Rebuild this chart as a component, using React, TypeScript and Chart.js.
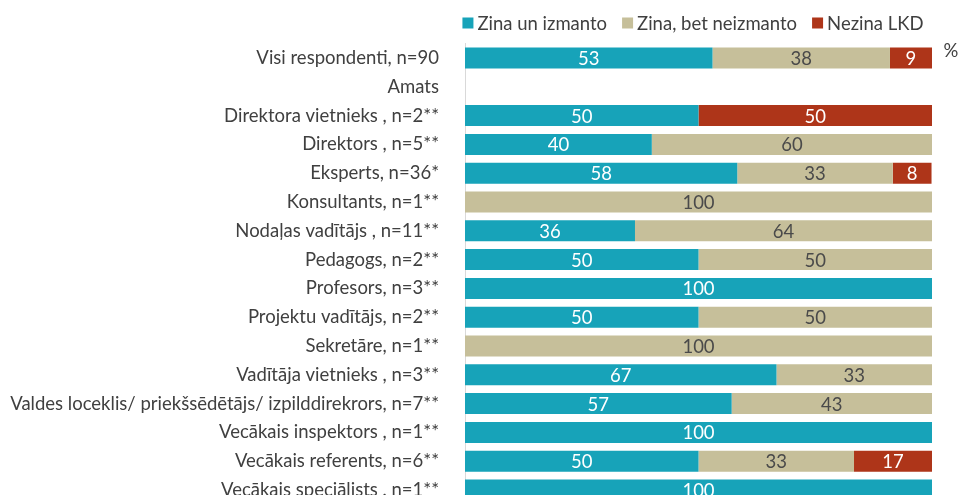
import React, { useEffect, useRef } from "react";
import { Chart, registerables } from "chart.js";

Chart.register(...registerables);

const categories = [
  "Visi respondenti, n=90",
  "Amats",
  "Direktora vietnieks , n=2**",
  "Direktors , n=5**",
  "Eksperts, n=36*",
  "Konsultants, n=1**",
  "Nodaļas vadītājs , n=11**",
  "Pedagogs, n=2**",
  "Profesors, n=3**",
  "Projektu vadītājs, n=2**",
  "Sekretāre, n=1**",
  "Vadītāja vietnieks , n=3**",
  "Valdes loceklis/ priekšsēdētājs/ izpilddirekrors, n=7**",
  "Vecākais inspektors , n=1**",
  "Vecākais referents, n=6**",
  "Vecākais speciālists , n=1**",
];

const seriesNames = ["Zina un izmanto", "Zina, bet neizmanto", "Nezina LKD"];
const knowUse = [53, null, 50, 40, 58.3, 0, 36.4, 50, 100, 50, 0, 66.7, 57.1, 100, 50, 100];
const knowNotUse = [38, null, 0, 60, 33.3, 100, 63.6, 50, 0, 50, 100, 33.3, 42.9, 0, 33.3, 0];
const dontKnow = [9, null, 50, 0, 8.3, 0, 0, 0, 0, 0, 0, 0, 0, 0, 16.7, 0];

const colors = ["#17a3b9", "#c6bf9a", "#ae3519"];
const labelColors = ["#ffffff", "#4a4a4a", "#ffffff"];
const FONT = "Lato, 'Open Sans', sans-serif";
const FS = 18.5;

const valueLabels = {
  id: "valueLabels",
  afterDatasetsDraw(chart: any) {
    const ctx = chart.ctx;
    ctx.save();
    ctx.font = `${FS}px ${FONT}`;
    ctx.textAlign = "center";
    ctx.textBaseline = "middle";
    chart.data.datasets.forEach((ds: any, di: number) => {
      const meta = chart.getDatasetMeta(di);
      meta.data.forEach((el: any, i: number) => {
        const v = ds.data[i];
        if (v == null || v <= 0) return;
        ctx.fillStyle = labelColors[di];
        ctx.fillText(String(Math.round(v)), (el.x + el.base) / 2, el.y + 1);
      });
    });
    ctx.restore();
  },
};

const customLegend = {
  id: "customLegend",
  afterDraw(chart: any) {
    const ctx = chart.ctx;
    ctx.save();
    ctx.font = `${FS}px ${FONT}`;
    ctx.textBaseline = "middle";
    ctx.textAlign = "left";
    const box = 11;
    const gapBox = 4;
    const gapItem = 15;
    const widths = seriesNames.map((n) => ctx.measureText(n).width);
    const total =
      widths.reduce((a, b) => a + b, 0) + seriesNames.length * (box + gapBox) + gapItem * (seriesNames.length - 1);
    let x = 693 - total / 2;
    const y = 23;
    seriesNames.forEach((n, i) => {
      ctx.fillStyle = colors[i];
      ctx.fillRect(x, y - box / 2, box, box);
      x += box + gapBox;
      ctx.fillStyle = "#404040";
      ctx.fillText(n, x, y + 1);
      x += widths[i] + gapItem;
    });
    ctx.fillStyle = "#404040";
    ctx.textAlign = "center";
    ctx.fillText("%", 951, 51);
    ctx.restore();
  },
};

export default function App() {
  const ref = useRef<HTMLCanvasElement>(null);
  useEffect(() => {
    if (!ref.current) return;
    const chart = new Chart(ref.current, {
      type: "bar",
      data: {
        labels: categories,
        datasets: [
          { label: seriesNames[0], data: knowUse, backgroundColor: colors[0] },
          { label: seriesNames[1], data: knowNotUse, backgroundColor: colors[1] },
          { label: seriesNames[2], data: dontKnow, backgroundColor: colors[2] },
        ] as any,
      },
      options: {
        indexAxis: "y",
        responsive: false,
        animation: false,
        datasets: { bar: { barPercentage: 0.73, categoryPercentage: 1, borderWidth: 0 } },
        layout: { padding: { top: 43.6, bottom: 0.6, right: 27, left: 0 } },
        plugins: { legend: { display: false }, tooltip: { enabled: false } },
        scales: {
          x: { stacked: true, min: 0, max: 100, display: false },
          y: {
            stacked: true,
            grid: { display: false },
            border: { display: true, color: "#d9d9d9", width: 1 },
            ticks: {
              autoSkip: false,
              padding: 18,
              color: "#404040",
              font: { family: FONT, size: FS },
            },
            afterFit(scale: any) {
              scale.width = 465;
              scale.paddingTop = 0;
              scale.paddingBottom = 0;
            },
          },
        },
      } as any,
      plugins: [valueLabels, customLegend],
    });
    return () => chart.destroy();
  }, []);
  return (
    <div style={{ position: "fixed", left: 0, top: 0, width: 959, height: 495, overflow: "hidden", background: "#fff" }}>
      <canvas ref={ref} width={959} height={505} style={{ width: 959, height: 505, display: "block" }} />
    </div>
  );
}
